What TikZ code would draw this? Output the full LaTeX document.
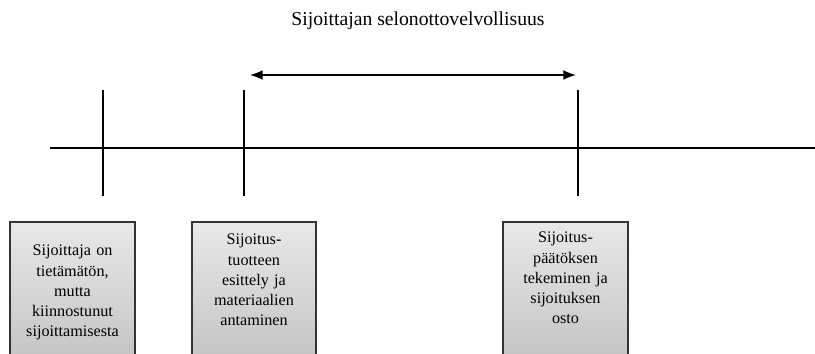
\documentclass[tikz,border=0pt]{standalone}
\usepackage{fontspec}
\setmainfont{Liberation Serif}
\usetikzlibrary{arrows.meta}
\tikzset{
    axisline/.style={line width=0.9pt,black},
    infobox/.style={draw=black!80,line width=0.9pt,top color=gray!18,bottom color=gray!48},
    boxtext/.style={anchor=north,inner sep=0pt,align=center,text width=3cm,
        font=\fontsize{11.5}{14.4}\selectfont},
}

\begin{document}
\begin{tikzpicture}[x=0.025cm,y=-0.025cm]
\useasboundingbox (0,0) rectangle (815,354);
\clip (0,0) rectangle (815,354);
\node[font=\fontsize{14}{16}\selectfont] (title) at (418,21) {Sijoittajan selonottovelvollisuus};
\coordinate (arrL) at (250,75);
\coordinate (arrR) at (576,75);
\draw[line width=1.1pt,{Latex[length=9pt,width=7pt]}-{Latex[length=9pt,width=7pt]}] (arrL) -- (arrR);
\coordinate (axL) at (50,148);
\coordinate (axR) at (815,148);
\draw[axisline] (axL) -- (axR);
\foreach \x/\n in {103/a,244/b,578/c}{
    \coordinate (tick\n top) at (\x,90);
    \coordinate (tick\n bot) at (\x,196);
    \draw[axisline] (tick\n top) -- (tick\n bot);
}
% boxes
\shade[infobox] (10,222) rectangle (135,370);
\shade[infobox] (192,222) rectangle (316,370);
\shade[infobox] (503,222) rectangle (628,370);
\node[boxtext] (boxa) at (72.5,245) {Sijoittaja on\\ tietämätön,\\ mutta\\ kiinnostunut\\ sijoittamisesta};
\node[boxtext] (boxb) at (254,234) {Sijoitus-\\ tuotteen\\ esittely ja\\ materiaalien\\ antaminen};
\node[boxtext] (boxc) at (565.5,232) {Sijoitus-\\ päätöksen\\ tekeminen ja\\ sijoituksen\\ osto};

\end{tikzpicture}
\end{document}
